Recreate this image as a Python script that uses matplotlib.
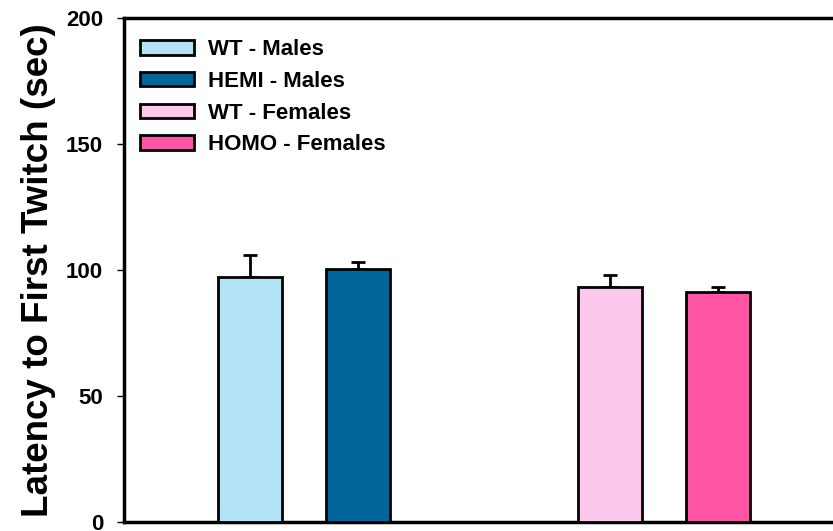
import numpy as np
import matplotlib.pyplot as plt

plt.rcParams['font.family'] = ['Liberation Sans', 'DejaVu Sans']
plt.rcParams['font.weight'] = 'bold'

# data
groups = ['WT - Males', 'HEMI - Males', 'WT - Females', 'HOMO - Females']
means = [97.3, 100.4, 93.4, 91.3]
sems = [8.5, 2.8, 4.6, 1.8]
colors = ['#b3e3f5', '#006699', '#fcc8ec', '#ff55a5']
positions = [0, 1, 3.333, 4.333]
yticks = [0, 50, 100, 150, 200]


def main():
    fig = plt.figure(figsize=(8.33, 5.31), dpi=100)
    ax = fig.add_axes([0.1489, 0.017, 0.864, 0.949])

    for x, m, e, c, lab in zip(positions, means, sems, colors, groups):
        ax.bar(x, m, width=0.595, color=c, edgecolor='black', linewidth=2,
               label=lab, zorder=3)
        ax.errorbar(x, m, yerr=[[0], [e]], fmt='none', ecolor='black',
                    elinewidth=2, capsize=5, capthick=2, zorder=2)

    ax.set_xlim(-1.167, 5.5)
    ax.set_ylim(0, 200)
    ax.set_yticks(yticks)
    ax.set_xticks([])
    ax.tick_params(axis='y', length=5, width=1.0, labelsize=16, pad=10)
    for t in ax.get_yticklabels():
        t.set_fontweight('bold')

    for s in ['left', 'bottom', 'top']:
        ax.spines[s].set_linewidth(2.5)
    ax.spines['right'].set_visible(False)

    ax.set_ylabel('Latency to First Twitch (sec)', fontsize=26.5,
                  fontweight='bold', labelpad=7.5)

    leg = ax.legend(loc='upper left', bbox_to_anchor=(0, 0.99),
                    frameon=False, fontsize=16,
                    handlelength=2.4, handleheight=0.63, labelspacing=0.48,
                    handletextpad=0.65, borderaxespad=0.33)
    for txt in leg.get_texts():
        txt.set_fontweight('bold')

    fig.savefig('out.png', dpi=100)


if __name__ == "__main__":
    main()
